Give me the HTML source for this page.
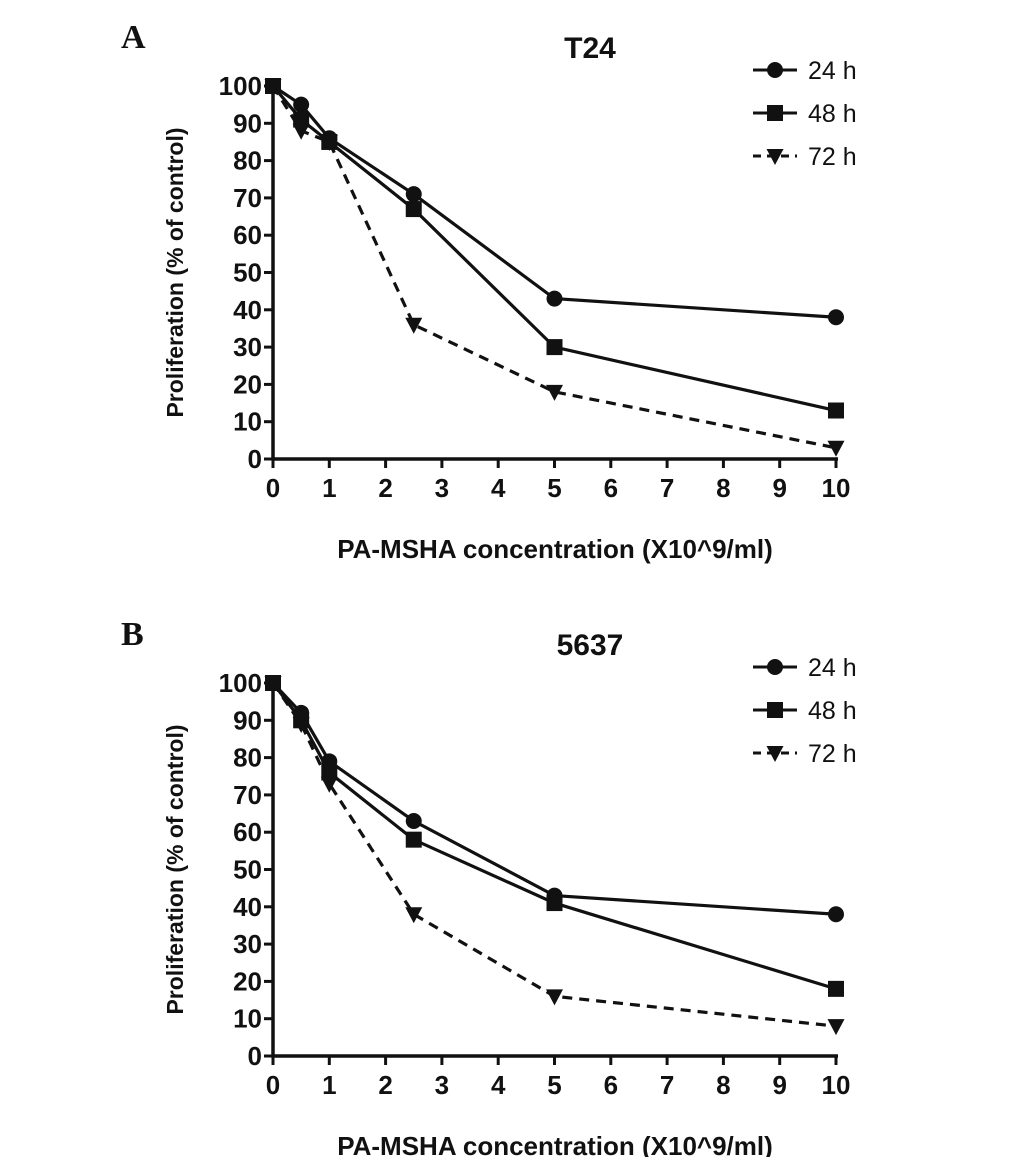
<!DOCTYPE html>
<html><head><meta charset="utf-8"><style>
body{margin:0;background:#fff;}
svg text{font-family:"Liberation Sans",Arial,sans-serif;font-weight:bold;fill:#111;}
</style></head><body>
<svg id="svg" width="1033" height="1157" xmlns="http://www.w3.org/2000/svg"></svg>
<script>
const xVals=[0,0.5,1,2.5,5,10];
const xTicks=[0,1,2,3,4,5,6,7,8,9,10];
const yTicks=[0,10,20,30,40,50,60,70,80,90,100];
const seriesNames=['24 h','48 h','72 h'];
const a24=[100,95,86,71,43,38];
const a48=[100,91,85,67,30,13];
const a72=[100,88,85,36,18,3];
const b24=[100,92,79,63,43,38];
const b48=[100,90,76,58,41,18];
const b72=[100,89,73,38,16,8];

const NS='http://www.w3.org/2000/svg';
const svg=document.getElementById('svg');
function mk(tag,attrs,parent){const e=document.createElementNS(NS,tag);for(const k in attrs)e.setAttribute(k,attrs[k]);(parent||svg).appendChild(e);return e;}
function marker(g,type,x,y){
  let m;
  if(type===0)m=mk('circle',{cx:x,cy:y,r:8,fill:'#111'},g);
  else if(type===1)m=mk('rect',{x:x-8,y:y-8,width:16,height:16,fill:'#111'},g);
  else m=mk('polygon',{points:`${x-8.5},${y-7} ${x+8.5},${y-7} ${x},${y+9}`,fill:'#111'},g);
  return m;
}
function panel(letter,title,top,data){
  const x0=273,x1=836,yTop=top,yBot=top+373;
  const sx=v=>x0+(x1-x0)*v/10;
  const sy=v=>yBot-(yBot-yTop)*v/100;
  const g=mk('g',{});
  
  
  const L=mk('text',{x:121,y:top-38,'font-size':34,style:'font-family:"Liberation Serif",serif'},g);L.textContent=letter;
  
  const T=mk('text',{x:590,y:top-28,'font-size':30,'text-anchor':'middle'},g);T.textContent=title;
  
  const ax=mk('path',{d:`M${x0},${yTop-2}V${yBot}H${x1+2}`,stroke:'#111','stroke-width':3.5,fill:'none'},g);
  
  yTicks.forEach(v=>{
    mk('line',{x1:x0-9,x2:x0,y1:sy(v),y2:sy(v),stroke:'#111','stroke-width':3},g);
    const t=mk('text',{x:x0-11,y:sy(v)+9,'font-size':26,'text-anchor':'end'},g);t.textContent=v;
    
  });
  xTicks.forEach(v=>{
    mk('line',{x1:sx(v),x2:sx(v),y1:yBot,y2:yBot+9,stroke:'#111','stroke-width':3},g);
    const t=mk('text',{x:sx(v),y:yBot+38,'font-size':26,'text-anchor':'middle'},g);t.textContent=v;
    
  });
  const yt=mk('text',{x:0,y:0,'font-size':23,'text-anchor':'middle',transform:`translate(183,${(yTop+yBot)/2}) rotate(-90)`},g);
  yt.textContent='Proliferation (% of control)';
  
  const xt=mk('text',{x:555,y:yBot+99,'font-size':26,'text-anchor':'middle'},g);
  xt.textContent='PA-MSHA concentration (X10^9/ml)';
  
  data.forEach((vals,i)=>{
    const sg=mk('g',{},g);
    
    
    const d=vals.map((v,j)=>(j?'L':'M')+sx(xVals[j])+','+sy(v)).join('');
    mk('path',{d,stroke:'#111','stroke-width':3.2,fill:'none','stroke-dasharray':i===2?'10,7':'none'},sg);
    vals.forEach((v,j)=>{const m=marker(sg,i,sx(xVals[j]),sy(v));
      });
    const ly=top-16+i*43;
    const lg=mk('g',{},g);
    
    mk('line',{x1:753,x2:797,y1:ly,y2:ly,stroke:'#111','stroke-width':3,'stroke-dasharray':i===2?'8,6':'none'},lg);
    marker(lg,i,775,ly);
    const lt=mk('text',{x:808,y:ly+9,'font-size':25,style:'font-weight:normal'},lg);lt.textContent=seriesNames[i];
  });
}
panel('A','T24',86,[a24,a48,a72]);
panel('B','5637',683,[b24,b48,b72]);
</script>
</body></html>
